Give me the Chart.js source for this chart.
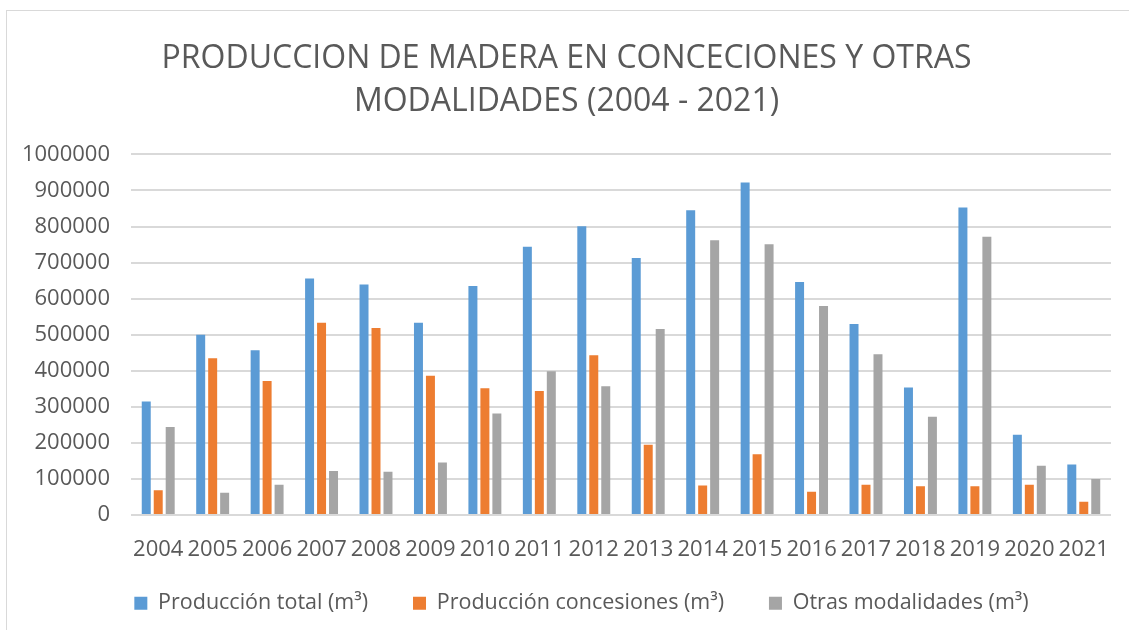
<!DOCTYPE html>
<html>
<head>
<meta charset="utf-8">
<script src="https://cdn.jsdelivr.net/npm/chart.js@4"></script>
<style>
  body { margin: 0; background: #fff; }
  #frame { position: absolute; left: 6px; top: 10px; width: 1140px; height: 640px; border: 1px solid #d9d9d9; box-sizing: border-box; }
  #wrap { position: absolute; left: 0; top: 0; width: 1129px; height: 630px; }
</style>
</head>
<body>
<div id="frame"></div>
<div id="wrap"><canvas id="myGraph"></canvas></div>
<script>
// años
var years = ["2004","2005","2006","2007","2008","2009","2010","2011","2012","2013","2014","2015","2016","2017","2018","2019","2020","2021"];
var totalValues = [315000,500000,457000,656000,639000,533000,635000,744000,801000,713000,845000,922000,646000,530000,354000,853000,223000,140000];
var concesionValues = [69000,435000,372000,533000,519000,386000,352000,344000,443000,195000,82000,169000,65000,84000,80000,80000,84000,37000];
var otrasValues = [244000,62000,84000,122000,120000,146000,282000,399000,357000,516000,762000,751000,580000,446000,273000,772000,137000,100000];
var seriesNames = ["Producción total (m³)","Producción concesiones (m³)","Otras modalidades (m³)"];
var barColors = ["#5b9bd5","#ed7d31","#a5a5a5"];

document.addEventListener("DOMContentLoaded",function(){
  makeChart();
});

function makeChart(){
  let target = document.getElementById("myGraph");
  let allValues = [totalValues, concesionValues, otrasValues];
  let sets = allValues.map(function(vals, i){
    return {
      label: seriesNames[i],
      data: vals,
      backgroundColor: barColors[i],
      categoryPercentage: 0.66,
      barPercentage: 0.75
    };
  });
  let font = "'Open Sans', sans-serif";

  // nudge the legend a bit to the right, like the original
  let legendShift = {
    id: "legendShift",
    afterLayout: function(chart){
      chart.legend.left += 15;
      chart.legend.right += 15;
    }
  };

  new Chart(target,{
    type: "bar",
    data: { labels: years, datasets: sets },
    plugins: [legendShift],
    options: {
      responsive: true,
      maintainAspectRatio: false,
      animation: false,
      layout: { padding: { left: 22, right: 18, top: 37, bottom: 6 } },
      plugins: {
        title: {
          display: true,
          text: ["PRODUCCION DE MADERA EN CONCECIONES Y OTRAS", "MODALIDADES (2004 - 2021)"],
          color: "#595959",
          font: { family: font, size: 32, weight: "normal", lineHeight: 1.35 },
          padding: { top: 0, bottom: 31 }
        },
        legend: {
          position: "bottom",
          labels: {
            color: "#595959",
            boxWidth: 13,
            boxHeight: 13,
            padding: 17,
            font: { family: font, size: 21.5 },
            // extra room between items without growing the legend vertically
            generateLabels: function(chart){
              let items = Chart.defaults.plugins.legend.labels.generateLabels(chart);
              items.forEach(function(it, i){
                it.lineWidth = 0;
                if (i < items.length - 1) it.text = it.text + "\u00a0\u00a0\u00a0\u00a0\u00a0";
              });
              return items;
            }
          }
        },
        tooltip: { enabled: false }
      },
      scales: {
        x: {
          grid: { display: false },
          border: { display: false },
          ticks: { color: "#595959", font: { family: font, size: 22 }, padding: 13, maxRotation: 0, autoSkip: false }
        },
        y: {
          min: 0,
          max: 1000000,
          afterFit: function(scale){ scale.width = 109; },
          grid: { color: "#d9d9d9", lineWidth: 2, drawTicks: false },
          border: { display: false },
          ticks: {
            stepSize: 100000,
            color: "#595959",
            padding: 21,
            font: { family: font, size: 22 },
            callback: function(v){ return String(v); }
          }
        }
      }
    }
  });
}
</script>
</body>
</html>
